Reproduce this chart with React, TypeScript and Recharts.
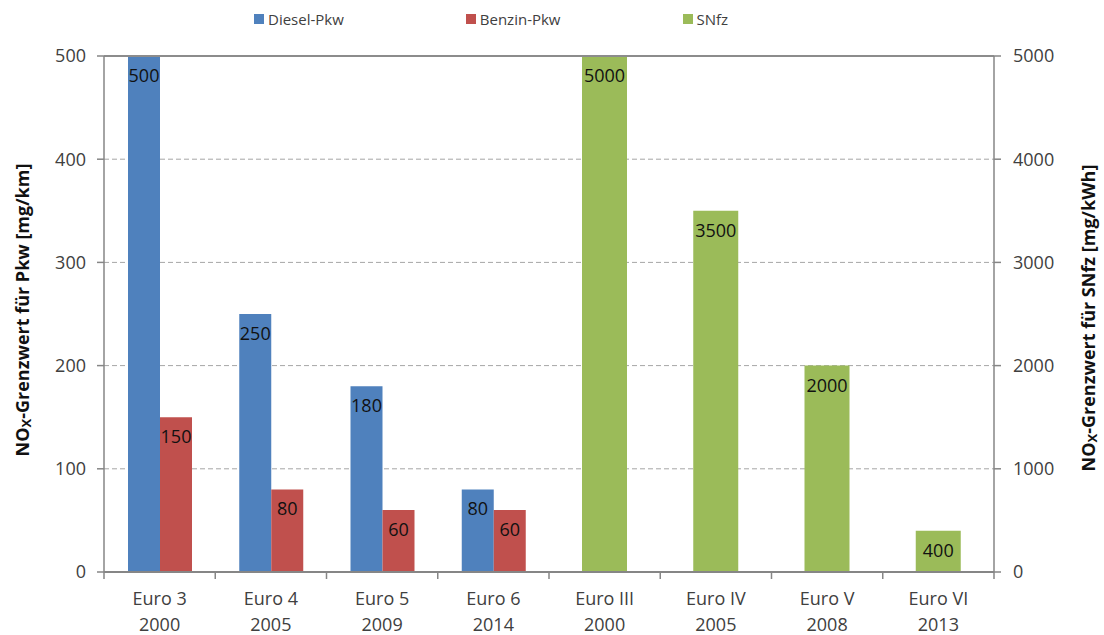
import { BarChart, Bar, XAxis, YAxis, CartesianGrid, ReferenceLine, LabelList } from 'recharts';

const categories = ['Euro 3', 'Euro 4', 'Euro 5', 'Euro 6', 'Euro III', 'Euro IV', 'Euro V', 'Euro VI'];
const years = ['2000', '2005', '2009', '2014', '2000', '2005', '2008', '2013'];
const dieselPkw = [500, 250, 180, 80, null, null, null, null];
const benzinPkw = [150, 80, 60, 60, null, null, null, null];
const snfz = [null, null, null, null, 5000, 3500, 2000, 400];
const leftTicks = [0, 100, 200, 300, 400, 500];
const rightTicks = [0, 1000, 2000, 3000, 4000, 5000];

const series = [
  { key: 'diesel', name: 'Diesel-Pkw', color: '#4F81BD' },
  { key: 'benzin', name: 'Benzin-Pkw', color: '#C0504D' },
  { key: 'snfz', name: 'SNfz', color: '#9BBB59' },
];

const data = categories.map((c, i) => ({
  label: c,
  year: years[i],
  diesel: dieselPkw[i],
  benzin: benzinPkw[i],
  snfz: snfz[i],
}));

const FONT = '"Open Sans", sans-serif';
const AXIS = '#868686';
const TEXT = '#404040';
const PLOT_LEFT = 104;
const PLOT_RIGHT = 994;
const BAND = (PLOT_RIGHT - PLOT_LEFT) / categories.length;

const CategoryTick = (props: any) => {
  const { x, y, payload, index } = props;
  const left = x - BAND / 2;
  const right = x + BAND / 2;
  return (
    <g>
      <line x1={left} x2={left} y1={y} y2={y + 7} stroke={AXIS} strokeWidth={1.5} />
      {index === categories.length - 1 && (
        <line x1={right} x2={right} y1={y} y2={y + 7} stroke={AXIS} strokeWidth={1.5} />
      )}
      <text x={x} y={y + 33} textAnchor="middle" fontSize={18} fill={TEXT} fontFamily={FONT}>
        {payload.value}
      </text>
      <text x={x} y={y + 59} textAnchor="middle" fontSize={18} fill={TEXT} fontFamily={FONT}>
        {years[index]}
      </text>
    </g>
  );
};

const BarValue = (props: any) => {
  const { x, y, width, value } = props;
  if (value === null || value === undefined) return null;
  return (
    <text
      x={x + width / 2}
      y={y + 19}
      textAnchor="middle"
      dominantBaseline="central"
      fontSize={18}
      fill="#111"
      fontFamily={FONT}
    >
      {value}
    </text>
  );
};

const AxisTitle = ({ cx, cy, unitText }: { cx: number; cy: number; unitText: string }) => (
  <text
    x={cx}
    y={cy}
    transform={`rotate(-90, ${cx}, ${cy})`}
    textAnchor="middle"
    dominantBaseline="central"
    fontSize={18}
    fontWeight="bold"
    fill="#111"
    fontFamily={FONT}
  >
    NO
    <tspan fontSize={13} dy={4}>X</tspan>
    <tspan dy={-4}>{unitText}</tspan>
  </text>
);

export default function App() {
  return (
    <div
      style={{
        position: 'absolute',
        left: 0,
        top: 0,
        width: 1104,
        height: 635,
        background: '#fff',
        fontFamily: FONT,
      }}
    >
      <div
        style={{
          position: 'absolute',
          top: 8,
          left: 254,
          display: 'flex',
          gap: 122,
          fontSize: 15,
          color: TEXT,
          lineHeight: '22px',
        }}
      >
        {series.map((s) => (
          <div key={s.key} style={{ display: 'flex', alignItems: 'center', gap: 4 }}>
            <span style={{ width: 10, height: 10, background: s.color, display: 'inline-block' }} />
            <span>{s.name}</span>
          </div>
        ))}
      </div>
      <svg width={1104} height={635} style={{ position: 'absolute', left: 0, top: 0, pointerEvents: 'none' }}>
        <AxisTitle cx={22} cy={310} unitText="-Grenzwert für Pkw [mg/km]" />
        <AxisTitle cx={1088} cy={318} unitText="-Grenzwert für SNfz [mg/kWh]" />
      </svg>
      <div style={{ position: 'absolute', left: 0, top: 0 }}>
        <BarChart
          width={1104}
          height={635}
          data={data}
          margin={{ top: 56, right: 0, bottom: 0, left: 0 }}
          barGap={0}
        >
          <CartesianGrid
            xAxisId="pkw"
            yAxisId="left"
            vertical={false}
            stroke="#a6a6a6"
            strokeDasharray="5 3"
          />
          <XAxis
            xAxisId="pkw"
            dataKey="label"
            height={63}
            axisLine={{ stroke: AXIS, strokeWidth: 2 }}
            tickLine={false}
            tickSize={0}
            tickMargin={0}
            interval={0}
            tick={<CategoryTick />}
          />
          <XAxis xAxisId="snfz" dataKey="label" hide />
          <YAxis
            yAxisId="left"
            width={104}
            domain={[0, 500]}
            ticks={leftTicks}
            interval={0}
            axisLine={{ stroke: AXIS, strokeWidth: 1.5 }}
            tickLine={{ stroke: AXIS, strokeWidth: 1.5 }}
            tickSize={7}
            tickMargin={11}
            tick={{ fill: TEXT, fontSize: 18, fontFamily: FONT }}
          />
          <YAxis
            yAxisId="right"
            orientation="right"
            width={110}
            domain={[0, 5000]}
            ticks={rightTicks}
            interval={0}
            axisLine={{ stroke: AXIS, strokeWidth: 1.5 }}
            tickLine={{ stroke: AXIS, strokeWidth: 1.5 }}
            tickSize={7}
            tickMargin={12}
            tick={{ fill: TEXT, fontSize: 18, fontFamily: FONT }}
          />
          <ReferenceLine xAxisId="pkw" yAxisId="left" y={500} stroke="#8c8c8c" strokeWidth={2} />
          <Bar
            xAxisId="pkw"
            yAxisId="left"
            dataKey="diesel"
            name="Diesel-Pkw"
            fill="#4F81BD"
            barSize={32}
            isAnimationActive={false}
          >
            <LabelList dataKey="diesel" content={<BarValue />} />
          </Bar>
          <Bar
            xAxisId="pkw"
            yAxisId="left"
            dataKey="benzin"
            name="Benzin-Pkw"
            fill="#C0504D"
            barSize={32}
            isAnimationActive={false}
          >
            <LabelList dataKey="benzin" content={<BarValue />} />
          </Bar>
          <Bar
            xAxisId="snfz"
            yAxisId="right"
            dataKey="snfz"
            name="SNfz"
            fill="#9BBB59"
            barSize={45}
            isAnimationActive={false}
          >
            <LabelList dataKey="snfz" content={<BarValue />} />
          </Bar>
        </BarChart>
      </div>
    </div>
  );
}
